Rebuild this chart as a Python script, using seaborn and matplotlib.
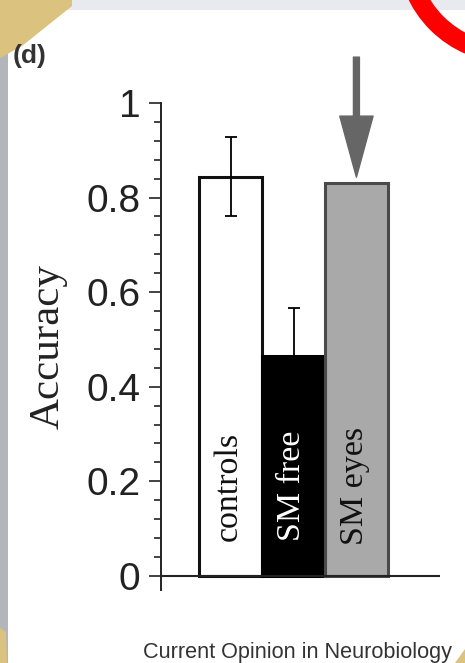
import numpy as np
import matplotlib
matplotlib.use("Agg")
import matplotlib.pyplot as plt
import matplotlib.transforms as mtransforms
from matplotlib.patches import Circle, Polygon, Rectangle
from matplotlib.ticker import MultipleLocator, FuncFormatter
import seaborn as sns

# ---- data ----
conditions = ["controls", "SM free", "SM eyes"]
accuracy = [0.844, 0.464, 0.830]
err = [0.084, 0.102, 0.0]
has_err = [True, True, False]
fill_colors = ["#ffffff", "#000000", "#a9a9a9"]
edge_colors = ["#111111", "#000000", "#4a4a4a"]
text_colors = ["#111111", "#ffffff", "#111111"]
yticks = [0, 0.2, 0.4, 0.6, 0.8, 1.0]

sns.set_theme(style="white")
plt.rcParams["font.family"] = ["Liberation Sans", "DejaVu Sans"]

W, H = 465, 663
fig = plt.figure(figsize=(W / 100, H / 100), dpi=100)
fig.patch.set_facecolor("white")

# axes placement (pixel measured)
left, right = 161 / W, 440 / W
top, bottom = 1 - 103 / H, 1 - 590 / H
ax = fig.add_axes([left, bottom, right - left, top - bottom])
ax.set_facecolor("none")

sns.barplot(x=conditions, y=accuracy, hue=conditions, palette=fill_colors,
            width=1.0, legend=False, ax=ax, saturation=1, linewidth=2.2,
            edgecolor="black", zorder=2)
for cont, ec in zip(ax.containers, edge_colors):
    for p in cont:
        p.set_edgecolor(ec)

for i, (m, e, h) in enumerate(zip(accuracy, err, has_err)):
    if h:
        ax.errorbar(i, m, yerr=e, color="black", lw=1.3, capsize=4,
                    capthick=1.3, zorder=3)

for i, (lab, tc) in enumerate(zip(conditions, text_colors)):
    ax.text(i - 0.03, 0.19, lab, rotation=90, ha="center", va="center",
            color=tc, fontsize=24.5, family=["Liberation Serif", "DejaVu Serif"],
            zorder=4)

ax.set_ylim(-0.03, 1.0)
ax.set_xlim(-1.11, 3.33)
ax.axhline(0, color="#222222", lw=1.5, zorder=5)

for s in ["top", "right", "bottom"]:
    ax.spines[s].set_visible(False)
ax.spines["left"].set_color("#222222")
ax.spines["left"].set_linewidth(1.4)
ax.spines["left"].set_zorder(5)
ax.set_xticks([])
ax.set_xlabel("")
ax.set_yticks(yticks)
ax.yaxis.set_minor_locator(MultipleLocator(0.04))
ax.yaxis.set_major_formatter(FuncFormatter(lambda v, p: "%g" % v))
ax.tick_params(axis="y", which="major", left=True, length=9, width=1.2,
               color="#222222", labelsize=28, labelcolor="#222222", pad=6)
ax.tick_params(axis="y", which="minor", left=True, length=5, width=1.2,
               color="#222222")

ax.set_ylabel("Accuracy", fontsize=31, family=["Liberation Serif", "DejaVu Serif"],
              color="#222222")
ax.yaxis.set_label_coords(-0.335, 0.5)

# arrow pointing at SM eyes bar
ax.annotate("", xy=(2, 0.843), xytext=(2, 1.097),
            arrowprops=dict(width=4.3, headwidth=24, headlength=44,
                            color="#666666", shrink=0), annotation_clip=False)

# texts
fig.text(13 / W, 1 - 63 / H, "(d)", fontsize=19, fontweight="bold",
         color="#333333", va="baseline")
fig.text(143 / W, 1 - 658 / H, "Current Opinion in Neurobiology",
         fontsize=15.6, color="#333333", va="baseline")

# screenshot decorations
px = mtransforms.Affine2D().scale(1, -1).translate(0, H)
fig.add_artist(Rectangle((0, 0), W, 10, transform=px, color="#e9eaf0", lw=0))
fig.add_artist(Rectangle((0, 0), 8, H, transform=px, color="#b4b5ba", lw=0))
fig.add_artist(Circle((510, -50), 103.5, transform=px, fill=False,
                      edgecolor="#ff0000", lw=19 * 0.72))
fig.add_artist(Polygon([(0, 0), (72, 0), (72, 6), (22, 46), (0, 58)],
                       transform=px, color="#dcc27f", lw=0))
fig.add_artist(Polygon([(0, 628), (6, 632), (7, 663), (0, 663)],
                       transform=px, color="#dcc27f", lw=0))
fig.add_artist(Polygon([(455, 663), (465, 649), (465, 663)],
                       transform=px, color="#dcc27f", lw=0))

fig.savefig("out.png", dpi=100)
